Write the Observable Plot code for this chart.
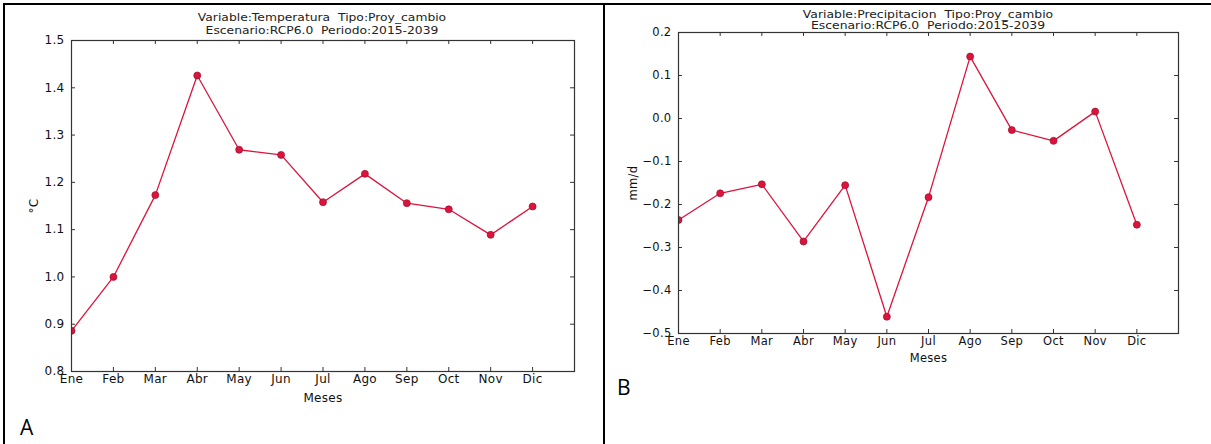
<!DOCTYPE html>
<html>
<head>
<meta charset="utf-8">
<script src="https://cdn.jsdelivr.net/npm/d3@7"></script>
<script src="https://cdn.jsdelivr.net/npm/@observablehq/plot@0.6"></script>
<style>
  html, body { margin: 0; padding: 0; background: #fff; }
  #wrap { position: relative; width: 1211px; height: 444px; background: #fff; overflow: hidden; }
  .chart { position: absolute; top: 0; }
  .title { position: absolute; font-family: "DejaVu Sans", sans-serif; color: #222; text-align: center; white-space: nowrap; transform-origin: 50% 0; }
  .panel-letter { position: absolute; font-family: "Open Sans", "Liberation Sans", sans-serif; font-size: 21px; color: #000; }
  .border { position: absolute; background: #000; }
</style>
</head>
<body>
<div id="wrap">
  <div class="border" style="left:3px;top:3px;width:1208px;height:2px"></div>
  <div class="border" style="left:3px;top:3px;width:2px;height:441px"></div>
  <div class="border" style="left:603px;top:3px;width:2px;height:441px"></div>
  <div class="chart" id="left" style="left:0px"></div>
  <div class="chart" id="right" style="left:605px"></div>
  <div class="title" style="left:322px;top:11px;font-size:11px;line-height:13px;transform:translateX(-50%) scaleX(1.12)">Variable:Temperatura&nbsp; Tipo:Proy_cambio<br>Escenario:RCP6.0&nbsp; Periodo:2015-2039</div>
  <div class="title" style="left:928px;top:9px;font-size:10.5px;line-height:10.5px;transform:translateX(-50%) scaleX(1.18)">Variable:Precipitacion&nbsp; Tipo:Proy_cambio<br>Escenario:RCP6.0&nbsp; Periodo:2015-2039</div>
  <div class="panel-letter" style="left:20px;top:413px">A</div>
  <div class="panel-letter" style="left:617px;top:373px">B</div>
</div>
<script>
const months = ["Ene","Feb","Mar","Abr","May","Jun","Jul","Ago","Sep","Oct","Nov","Dic"];
const monthIndex = [0,1,2,3,4,5,6,7,8,9,10,11];
const tempValues = [0.886, 1.000, 1.173, 1.426, 1.269, 1.258, 1.158, 1.218, 1.156, 1.143, 1.089, 1.149];
const precValues = [-0.236, -0.174, -0.153, -0.286, -0.155, -0.461, -0.183, 0.144, -0.027, -0.052, 0.016, -0.247];
const tempTicks = [0.8, 0.9, 1.0, 1.1, 1.2, 1.3, 1.4, 1.5];
const precTicks = [-0.5, -0.4, -0.3, -0.2, -0.1, 0.0, 0.1, 0.2];
const lineColor = "#dc143c";

function makeChart({values, yDomain, yTicks, yLabel, width, height, ml, mr, mt, mb, fontSize, labelOffsetY, labelOffsetX}) {
  const data = months.map((m, i) => ({i, v: values[i]}));
  const iw = width - ml - mr;
  const ih = height - mt - mb;
  const tick = 4;
  return Plot.plot({
    width, height,
    marginLeft: ml, marginRight: mr, marginTop: mt, marginBottom: mb,
    style: {fontFamily: "DejaVu Sans, sans-serif", fontSize: fontSize + "px", letterSpacing: "0.3px", color: "#111", background: "transparent"},
    x: {domain: [0, 12]},
    y: {domain: yDomain},
    marks: [
      Plot.line(data, {x: "i", y: "v", stroke: lineColor, strokeWidth: 1.3, clip: true}),
      Plot.dot(data, {x: "i", y: "v", r: 3.5, fill: lineColor, stroke: "#9b0f2e", strokeWidth: 0.7, clip: true}),
      Plot.tickX(monthIndex, {x: d => d, insetTop: ih - tick, stroke: "#333"}),
      Plot.tickX(monthIndex, {x: d => d, insetBottom: ih - tick, stroke: "#333"}),
      Plot.tickY(yTicks, {y: d => d, insetRight: iw - tick, stroke: "#333"}),
      Plot.tickY(yTicks, {y: d => d, insetLeft: iw - tick, stroke: "#333"}),
      Plot.frame({stroke: "#333", strokeWidth: 1.2}),
      Plot.axisX(monthIndex, {tickSize: 0, tickPadding: 3, tickFormat: i => months[i], label: "Meses", labelAnchor: "center", labelArrow: "none", labelOffset: labelOffsetX}),
      Plot.axisY(yTicks, {tickSize: 0, tickPadding: 7, tickFormat: d3.format(".1f"), label: yLabel, labelAnchor: "center", labelArrow: "none", labelOffset: labelOffsetY})
    ]
  });
}

document.getElementById("left").appendChild(makeChart({
  values: tempValues, yDomain: [0.8, 1.5], yTicks: tempTicks, yLabel: "°C",
  width: 605, height: 410, ml: 71, mr: 31, mt: 40, mb: 39, fontSize: 12, labelOffsetY: 42, labelOffsetX: 30
}));
document.getElementById("right").appendChild(makeChart({
  values: precValues, yDomain: [-0.5, 0.2], yTicks: precTicks, yLabel: "mm/d",
  width: 606, height: 370, ml: 73, mr: 33, mt: 32, mb: 37, fontSize: 11.5, labelOffsetY: 50, labelOffsetX: 28
}));
</script>
</body>
</html>
